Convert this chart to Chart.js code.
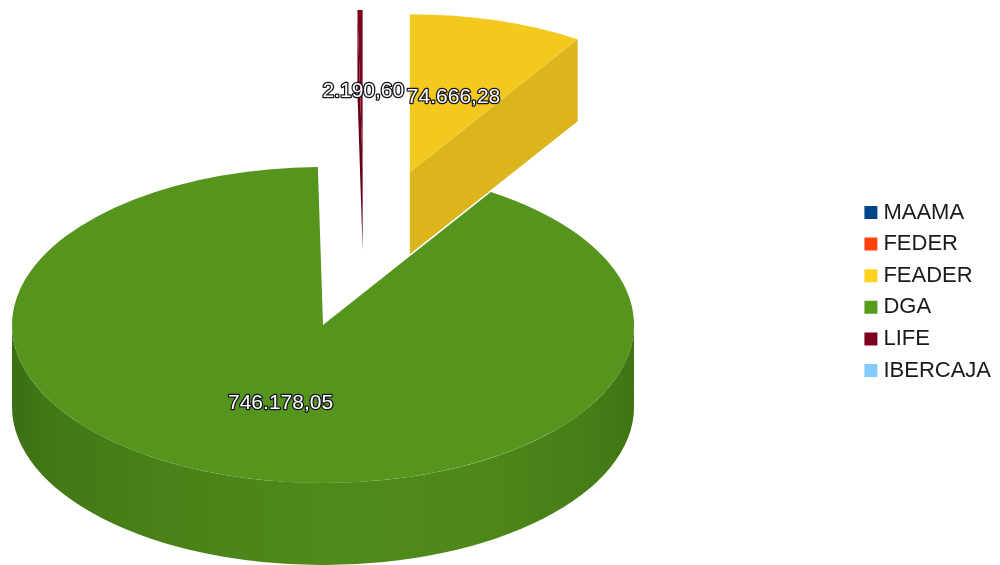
<!DOCTYPE html>
<html>
<head>
<meta charset="utf-8">
<title>Financiación</title>
<script src="https://cdn.jsdelivr.net/npm/chart.js@4/dist/chart.umd.js"></script>
<style>
  html, body { margin: 0; padding: 0; background: #fff; }
  canvas { display: block; filter: blur(0.4px); }
</style>
</head>
<body>
<canvas id="chart" width="1000" height="565"></canvas>
<script>
const categories = ['MAAMA', 'FEDER', 'FEADER', 'DGA', 'LIFE', 'IBERCAJA'];
const values = [0, 0, 74666.28, 746178.05, 2190.60, 0];
const valueLabels = ['', '', '74.666,28', '746.178,05', '2.190,60', ''];
const legendColors = ['#004586', '#ff420e', '#ffd320', '#579d1c', '#7e0021', '#83caff'];
const faceColors = ['#004586', '#ff420e', '#f3c91f', '#55951e', '#7e0021', '#83caff'];
const cutColors = ['#003a70', '#d9380c', '#dcb51c', '#4c861b', '#650019', '#70acd9'];
// how far each slice is pulled out of the pie, in px before flattening
const explode = [0, 0, 163, 150, 165, 0];
// small hand nudges for the value labels
const labelNudgeX = [0, 0, 0, 0, 2, 0];
const labelNudgeY = [0, 0, 1, 2, 2, 0];

const centerX = 364;
const centerY = 251.7;
const radius = 311;
const squash = 158 / 311;
const depth = 82;

function apexOf(arc, i) {
  const mid = (arc.startAngle + arc.endAngle) / 2;
  return {
    x: centerX + Math.cos(mid) * explode[i],
    y: centerY + Math.sin(mid) * explode[i] * squash,
    mid
  };
}

function drawCut(ctx, apex, angle, color) {
  const ex = apex.x + Math.cos(angle) * radius;
  const ey = apex.y + Math.sin(angle) * radius * squash;
  ctx.fillStyle = color;
  ctx.beginPath();
  ctx.moveTo(apex.x, apex.y);
  ctx.lineTo(ex, ey);
  ctx.lineTo(ex, ey + depth);
  ctx.lineTo(apex.x, apex.y + depth);
  ctx.closePath();
  ctx.fill();
}

function drawWall(ctx, apex, from, to) {
  const g = ctx.createLinearGradient(apex.x - radius, 0, apex.x + radius, 0);
  g.addColorStop(0, '#3c6e13');
  g.addColorStop(0.06, '#427815');
  g.addColorStop(0.25, '#4a8118');
  g.addColorStop(0.5, '#4e8a1a');
  g.addColorStop(0.75, '#4e881a');
  g.addColorStop(0.94, '#467c17');
  g.addColorStop(1, '#417414');
  ctx.fillStyle = g;
  ctx.beginPath();
  ctx.ellipse(apex.x, apex.y, radius, radius * squash, 0, from, to);
  ctx.ellipse(apex.x, apex.y + depth, radius, radius * squash, 0, to, from, true);
  ctx.closePath();
  ctx.fill();
}

const pie3d = {
  id: 'pie3d',
  // replaces the flat draw: sides first, then the library's arcs flattened and pulled out
  beforeDatasetDraw(chart) {
    const ctx = chart.ctx;
    const arcs = chart.getDatasetMeta(0).data;
    arcs.forEach((arc, i) => {
      if (!values[i]) return;
      const apex = apexOf(arc, i);
      const from = Math.max(arc.startAngle, 0);
      const to = Math.min(arc.endAngle, Math.PI);
      if (to > from) drawWall(ctx, apex, from, to);
      if (-Math.cos(arc.startAngle) > 1e-6) drawCut(ctx, apex, arc.startAngle, cutColors[i]);
      if (Math.cos(arc.endAngle) > 1e-6) drawCut(ctx, apex, arc.endAngle, cutColors[i]);
    });
    arcs.forEach((arc, i) => {
      if (!values[i]) return;
      const apex = apexOf(arc, i);
      ctx.save();
      ctx.translate(apex.x, apex.y);
      ctx.scale(1, squash);
      ctx.translate(-arc.x, -arc.y);
      arc.draw(ctx);
      ctx.restore();
    });
    return false;
  },
  afterDatasetsDraw(chart) {
    const ctx = chart.ctx;
    const arcs = chart.getDatasetMeta(0).data;
    ctx.save();
    ctx.font = '21px "Liberation Sans", Arial, sans-serif';
    ctx.textAlign = 'center';
    ctx.textBaseline = 'middle';
    ctx.lineJoin = 'round';
    arcs.forEach((arc, i) => {
      if (!valueLabels[i]) return;
      const apex = apexOf(arc, i);
      const lx = apex.x + Math.cos(apex.mid) * radius * 0.5 + labelNudgeX[i];
      const ly = apex.y + Math.sin(apex.mid) * radius * squash * 0.5 + labelNudgeY[i];
      ctx.strokeStyle = '#14141e';
      ctx.lineWidth = 2.6;
      ctx.strokeText(valueLabels[i], lx, ly);
      ctx.fillStyle = '#ffffff';
      ctx.fillText(valueLabels[i], lx, ly);
    });
    ctx.restore();
  }
};

new Chart(document.getElementById('chart'), {
  type: 'pie',
  data: {
    labels: categories,
    datasets: [{
      data: values,
      backgroundColor: faceColors,
      borderWidth: 0
    }]
  },
  options: {
    responsive: false,
    animation: false,
    radius: radius,
    layout: { padding: { top: 18, right: -1 } },
    plugins: {
      tooltip: { enabled: false },
      legend: {
        position: 'right',
        labels: {
          color: '#1a1a1a',
          font: { family: '"Liberation Sans", Arial, sans-serif', size: 22 },
          usePointStyle: true,
          pointStyle: 'rect',
          boxWidth: 3,
          boxHeight: 13,
          padding: 9.6,
          generateLabels(chart) {
            const items = Chart.overrides.doughnut.plugins.legend.labels.generateLabels(chart);
            items.forEach((item, i) => {
              item.fillStyle = legendColors[i];
              item.strokeStyle = legendColors[i];
              item.lineWidth = 0;
            });
            return items;
          }
        }
      }
    }
  },
  plugins: [pie3d]
});
</script>
</body>
</html>
